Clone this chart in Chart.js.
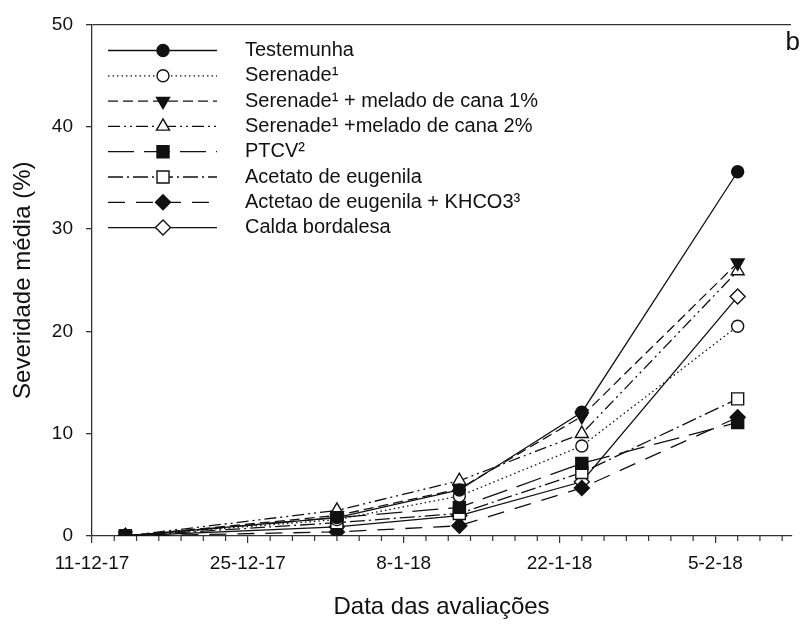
<!DOCTYPE html>
<html><head><meta charset="utf-8">
<script src="https://cdn.jsdelivr.net/npm/chart.js@4.4.0/dist/chart.umd.min.js"></script>
<style>html,body{margin:0;padding:0;background:#fff;overflow:hidden}canvas{display:block}</style>
</head><body>
<canvas id="c" width="801" height="624"></canvas>
<script>
// Evaluation dates, as days after 11-12-17
const evalDays = [3, 22, 33, 44, 58];
// Labelled x ticks (days after 11-12-17) and their labels
const tickDays = [0, 14, 28, 42, 56];
const tickLabels = ['11-12-17', '25-12-17', '8-1-18', '22-1-18', '5-2-18'];
const yTicks = [0, 10, 20, 30, 40, 50];

const seriesNames = [
  'Testemunha',
  'Serenade\u00b9',
  'Serenade\u00b9 + melado de cana 1%',
  'Serenade\u00b9 +melado de cana 2%',
  'PTCV\u00b2',
  'Acetato de eugenila',
  'Actetao de eugenila + KHCO3\u00b3',
  'Calda bordalesa'
];
const testemunha   = [0, 1.8, 4.5, 12.1, 35.6];
const serenade     = [0, 1.6, 3.9, 8.8, 20.5];
const serenade1    = [0, 2.0, 4.6, 11.7, 26.7];
const serenade2    = [0, 2.5, 5.4, 10.0, 25.9];
const ptcv         = [0, 1.8, 2.8, 7.1, 11.1];
const acetato      = [0, 1.3, 2.2, 6.2, 13.4];
const acetatoKhco3 = [0, 0.4, 1.0, 4.7, 11.6];
const calda        = [0, 0.9, 2.0, 5.3, 23.4];
const seriesValues = [testemunha, serenade, serenade1, serenade2, ptcv, acetato, acetatoKhco3, calda];

const INK = '#111';
const styles = [
  {dash: [], point: 'circle', rot: 0, r: 6, fill: INK},
  {dash: [1.5, 3], point: 'circle', rot: 0, r: 6, fill: '#fff'},
  {dash: [10, 5], point: 'triangle', rot: 180, r: 7.5, fill: INK},
  {dash: [12, 4, 2, 4, 2, 4], point: 'triangle', rot: 0, r: 7.5, fill: '#fff'},
  {dash: [26, 10], point: 'rect', rot: 0, r: 8.5, fill: INK},
  {dash: [15, 4, 2, 4], point: 'rect', rot: 0, r: 8.5, fill: '#fff'},
  {dash: [17, 11], point: 'rectRot', rot: 0, r: 7.5, fill: INK},
  {dash: [], point: 'rectRot', rot: 0, r: 7.5, fill: '#fff'}
];

const datasets = seriesNames.map((name, i) => ({
  label: name,
  data: evalDays.map((d, k) => ({x: d, y: seriesValues[i][k]})),
  borderColor: INK,
  borderWidth: 1.3,
  borderDash: styles[i].dash,
  pointStyle: styles[i].point,
  pointRotation: styles[i].rot,
  pointRadius: styles[i].r,
  pointBackgroundColor: styles[i].fill,
  pointBorderColor: INK,
  pointBorderWidth: 1.4,
  fill: false,
  tension: 0
}));

const FONT = '"Liberation Sans", Arial, sans-serif';
const legendTop = 50.5, legendStep = 25.3;

const decor = {
  id: 'decor',
  afterDraw(chart) {
    const ctx = chart.ctx, xs = chart.scales.x, area = chart.chartArea;
    ctx.save();
    ctx.strokeStyle = '#333';
    ctx.lineWidth = 1.2;
    for (let v = 2; v <= xs.max; v += 2) {
      if (v % 14 === 0) continue;
      const px = xs.getPixelForValue(v);
      ctx.beginPath();
      ctx.moveTo(px, area.bottom);
      ctx.lineTo(px, area.bottom + 5);
      ctx.stroke();
    }
    chart.data.datasets.forEach((ds, i) => {
      const y = legendTop + i * legendStep;
      ctx.save();
      ctx.strokeStyle = ds.borderColor;
      ctx.lineWidth = ds.borderWidth;
      ctx.setLineDash(ds.borderDash || []);
      ctx.beginPath();
      ctx.moveTo(108, y);
      ctx.lineTo(217, y);
      ctx.stroke();
      ctx.setLineDash([]);
      ctx.fillStyle = ds.pointBackgroundColor;
      ctx.strokeStyle = ds.pointBorderColor;
      ctx.lineWidth = ds.pointBorderWidth;
      Chart.helpers.drawPoint(ctx, {pointStyle: ds.pointStyle, rotation: ds.pointRotation || 0,
        radius: ds.pointRadius, borderWidth: ds.pointBorderWidth}, 163, y);
      ctx.restore();
      ctx.fillStyle = '#111';
      ctx.font = '20px ' + FONT;
      ctx.textBaseline = 'middle';
      ctx.textAlign = 'left';
      ctx.fillText(ds.label, 245, y);
    });
    ctx.fillStyle = '#111';
    ctx.font = '26px ' + FONT;
    ctx.textAlign = 'right';
    ctx.textBaseline = 'alphabetic';
    ctx.fillText('b', 800, 50);
    ctx.restore();
  }
};

new Chart(document.getElementById('c'), {
  type: 'line',
  data: {datasets},
  plugins: [decor],
  options: {
    responsive: false,
    devicePixelRatio: 1,
    animation: false,
    events: [],
    layout: {padding: {left: 0, top: 20, right: 0, bottom: 0}},
    plugins: {legend: {display: false}, tooltip: {enabled: false}},
    scales: {
      x: {
        type: 'linear',
        min: 0,
        max: 62.8,
        afterBuildTicks: s => { s.ticks = tickDays.map(v => ({value: v})); },
        afterFit: s => { s.height = 88; },
        ticks: {
          callback: v => tickLabels[tickDays.indexOf(v)] || '',
          color: '#111',
          font: {family: FONT, size: 19},
          padding: 9,
          maxRotation: 0,
          autoSkip: false
        },
        grid: {drawOnChartArea: false, tickLength: 7, color: '#333', lineWidth: 1.2},
        border: {color: '#333', width: 1.3},
        title: {display: true, text: 'Data das avaliações', color: '#111',
          font: {family: FONT, size: 24}, padding: {top: 0, bottom: 2}}
      },
      y: {
        type: 'linear',
        min: 0,
        max: 50,
        afterBuildTicks: s => { s.ticks = yTicks.map(v => ({value: v})); },
        afterFit: s => { s.width = 92; },
        ticks: {
          color: '#111',
          font: {family: FONT, size: 19},
          padding: 13
        },
        grid: {
          drawOnChartArea: true,
          color: c => (c.tick && c.tick.value === 50) ? '#333' : 'rgba(0,0,0,0)',
          tickColor: '#333',
          tickLength: 6,
          lineWidth: 1.3
        },
        border: {color: '#333', width: 1.3},
        title: {display: true, text: 'Severidade média (%)', color: '#111',
          font: {family: FONT, size: 24}, padding: {top: 9, bottom: 0}}
      }
    }
  }
});
</script>
</body></html>
